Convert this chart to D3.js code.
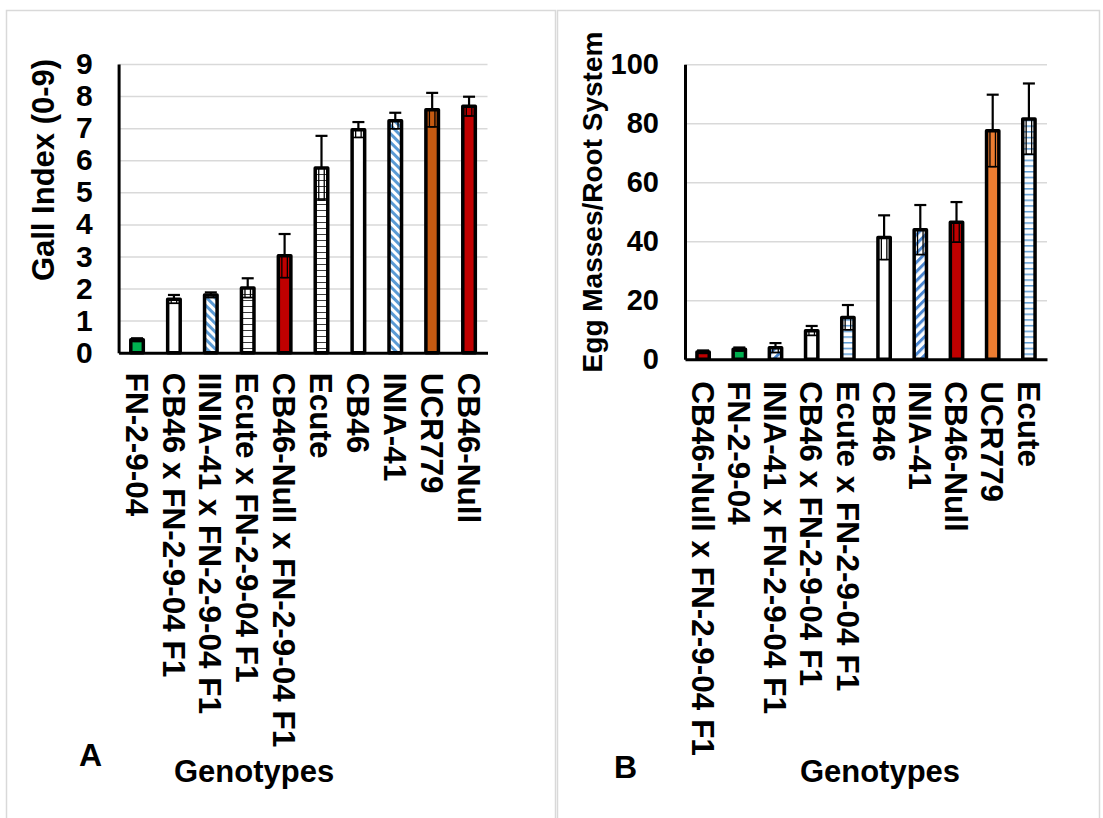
<!DOCTYPE html>
<html>
<head>
<meta charset="utf-8">
<script src="https://cdn.jsdelivr.net/npm/d3@7"></script>
<style>
  html, body { margin: 0; padding: 0; background: #fff; }
  svg { display: block; }
</style>
</head>
<body>
<script>
// ---- Panel A: gall index (0-9) ----
const catsA = [
  "FN-2-9-04",
  "CB46 x FN-2-9-04 F1",
  "IINIA-41 x FN-2-9-04 F1",
  "Ecute x FN-2-9-04 F1",
  "CB46-Null x FN-2-9-04 F1",
  "Ecute",
  "CB46",
  "INIA-41",
  "UCR779",
  "CB46-Null"
];
const gallIndex = [0.4, 1.67, 1.8, 2.02, 3.02, 5.76, 6.95, 7.23, 7.57, 7.68];
const gallSE    = [0.05, 0.13, 0.08, 0.3, 0.68, 1.0, 0.24, 0.25, 0.53, 0.3];
const ticksA = [0, 1, 2, 3, 4, 5, 6, 7, 8, 9];

// ---- Panel B: egg masses per root system ----
const catsB = [
  "CB46-Null x FN-2-9-04 F1",
  "FN-2-9-04",
  "INIA-41 x FN-2-9-04 F1",
  "CB46 x FN-2-9-04 F1",
  "Ecute x FN-2-9-04 F1",
  "CB46",
  "INIA-41",
  "CB46-Null",
  "UCR779",
  "Ecute"
];
const eggMasses = [2.5, 3.4, 3.9, 9.7, 14.2, 41.3, 43.9, 46.5, 77.5, 81.5];
const eggSE     = [0.5, 0.6, 1.6, 1.6, 4.2, 7.5, 8.4, 6.8, 12.2, 12.0];
const ticksB = [0, 20, 40, 60, 80, 100];

// fill style per bar (kept apart from the values)
const fillsA = ["#00b050", "#ffffff", "url(#diagA)", "url(#hBlack)", "#c00000",
                "url(#hBlack)", "#ffffff", "url(#diagA)", "#c55a11", "#c00000"];
const fillsB = ["#c00000", "#00b050", "url(#diagB)", "#ffffff", "url(#hBlue)",
                "#ffffff", "url(#diagB)", "#c00000", "#ed7d31", "url(#hBlue)"];

const FONT = "'Liberation Sans', Arial, Helvetica, sans-serif";

const svg = d3.select("body").append("svg")
  .attr("width", 1103).attr("height", 818)
  .style("font-family", FONT);

svg.append("rect").attr("width", 1103).attr("height", 818).attr("fill", "#fff");

// ---- hatch patterns ----
const defs = svg.append("defs");
function stripePattern(id, w, h, lineW, color, angle, vertical) {
  const p = defs.append("pattern")
    .attr("id", id)
    .attr("patternUnits", "userSpaceOnUse")
    .attr("width", w).attr("height", h);
  if (angle) p.attr("patternTransform", `rotate(${angle})`);
  p.append("rect").attr("width", w).attr("height", h).attr("fill", "#fff");
  if (vertical) {
    p.append("rect").attr("x", 0).attr("y", 0).attr("width", lineW).attr("height", h).attr("fill", color);
  } else {
    p.append("rect").attr("x", 0).attr("y", 0).attr("width", w).attr("height", lineW).attr("fill", color);
  }
}
stripePattern("diagA", 6, 6, 3, "#5b9bd5", -45, true);
stripePattern("diagB", 6.5, 6.5, 3, "#4a86d0", 45, true);
stripePattern("hBlack", 6, 6, 1, "#3a3a3a", 0, false);
stripePattern("hBlue", 6, 5.7, 1.5, "#5b9bd5", 0, false);

// ---- panel frames ----
svg.append("rect").attr("x", 6.5).attr("y", 10.5).attr("width", 549).attr("height", 830)
  .attr("fill", "none").attr("stroke", "#d9d9d9").attr("stroke-width", 1.5);
svg.append("rect").attr("x", 557.5).attr("y", 10.5).attr("width", 542).attr("height", 830)
  .attr("fill", "none").attr("stroke", "#d9d9d9").attr("stroke-width", 1.5);

function drawPanel(o) {
  const g = svg.append("g");
  const x = d3.scaleBand().domain(o.cats).range([o.x0, o.x1])
    .paddingInner(0.66).paddingOuter(0.33);
  const y = d3.scaleLinear().domain([0, o.max]).range([o.y0, o.y1]);
  const bw = x.bandwidth();

  // horizontal gridlines
  g.append("g")
    .attr("transform", `translate(${o.x0},0)`)
    .call(d3.axisLeft(y).tickValues(o.ticks).tickSize(-(o.x1 - o.x0)).tickFormat(""))
    .call(a => a.select(".domain").remove())
    .call(a => a.selectAll("line").attr("stroke", "#d9d9d9").attr("stroke-width", 1.5));

  const idx = d3.range(o.cats.length);

  // bars
  g.append("g").selectAll("rect").data(idx).join("rect")
    .attr("x", i => x(o.cats[i]))
    .attr("y", i => y(o.values[i]))
    .attr("width", bw)
    .attr("height", i => y(0) - y(o.values[i]))
    .attr("fill", i => o.fills[i])
    .attr("stroke", "#000")
    .attr("stroke-width", 3.5)
    .attr("stroke-linejoin", "round");

  // error bars: whisker above the bar, boxed lower half inside the bar
  const eg = g.append("g").selectAll("g").data(idx).join("g")
    .attr("transform", i => `translate(${x(o.cats[i]) + bw / 2},0)`);
  eg.append("line")
    .attr("x1", 0).attr("x2", 0)
    .attr("y1", i => y(o.values[i]))
    .attr("y2", i => y(o.values[i] + o.errs[i]))
    .attr("stroke", "#000").attr("stroke-width", 2.2);
  eg.append("line")
    .attr("x1", -6).attr("x2", 6)
    .attr("y1", i => y(o.values[i] + o.errs[i]))
    .attr("y2", i => y(o.values[i] + o.errs[i]))
    .attr("stroke", "#000").attr("stroke-width", 2.2);
  eg.append("rect")
    .attr("x", -2.75).attr("width", 5.5)
    .attr("y", i => y(o.values[i]))
    .attr("height", i => y(Math.max(0, o.values[i] - o.errs[i])) - y(o.values[i]))
    .attr("fill", "none").attr("stroke", "#000").attr("stroke-width", 1.3);
  eg.append("line")
    .attr("x1", -6).attr("x2", 6)
    .attr("y1", i => y(Math.max(0, o.values[i] - o.errs[i])))
    .attr("y2", i => y(Math.max(0, o.values[i] - o.errs[i])))
    .attr("stroke", "#000").attr("stroke-width", 1.6);

  // value axis
  g.append("g")
    .attr("transform", `translate(${o.x0},0)`)
    .call(d3.axisLeft(y).tickValues(o.ticks).tickSize(0).tickSizeOuter(0).tickPadding(26))
    .call(a => a.select(".domain").attr("stroke", "#000").attr("stroke-width", 3))
    .call(a => a.selectAll("text")
      .attr("fill", "#000")
      .style("font-family", FONT)
      .style("font-weight", "bold")
      .style("font-size", o.tickFont + "px"));

  // category axis with vertical labels
  g.append("g")
    .attr("transform", `translate(0,${o.y0})`)
    .call(d3.axisBottom(x).tickSize(0).tickSizeOuter(0))
    .call(a => a.select(".domain").attr("stroke", "#000").attr("stroke-width", 3))
    .call(a => a.selectAll("text")
      .attr("fill", "#000")
      .attr("y", 0)
      .attr("x", o.labelGap)
      .attr("dy", "0.36em")
      .attr("transform", "rotate(90)")
      .attr("text-anchor", "start")
      .style("font-family", FONT)
      .style("font-weight", "bold")
      .style("font-size", "31.5px"));

  // axis titles and panel letter
  g.append("text")
    .attr("transform", `translate(${o.titleX},${o.titleY}) rotate(-90)`)
    .attr("text-anchor", "middle")
    .style("font-weight", "bold")
    .style("font-size", o.titleFont + "px")
    .text(o.title);

  g.append("text")
    .attr("x", (o.x0 + o.x1) / 2 - o.genoShift)
    .attr("y", 782)
    .attr("text-anchor", "middle")
    .style("font-weight", "bold")
    .style("font-size", "31px")
    .text("Genotypes");

  g.append("text")
    .attr("x", o.letterX)
    .attr("y", o.letterY)
    .style("font-weight", "bold")
    .style("font-size", "32px")
    .text(o.letter);
}

drawPanel({
  cats: catsA, values: gallIndex, errs: gallSE, fills: fillsA, ticks: ticksA,
  max: 9, x0: 118.6, x1: 487.5, y0: 352.7, y1: 64,
  tickFont: 30, labelGap: 20,
  title: "Gall Index (0-9)", titleX: 54, titleY: 170, titleFont: 31,
  genoShift: 49, letter: "A", letterX: 79, letterY: 766
});

drawPanel({
  cats: catsB, values: eggMasses, errs: eggSE, fills: fillsB, ticks: ticksB,
  max: 100, x0: 685, x1: 1047, y0: 359.3, y1: 64.3,
  tickFont: 29, labelGap: 22,
  title: "Egg Masses/Root System", titleX: 602, titleY: 202, titleFont: 28,
  genoShift: -14, letter: "B", letterX: 614, letterY: 778
});
</script>
</body>
</html>
